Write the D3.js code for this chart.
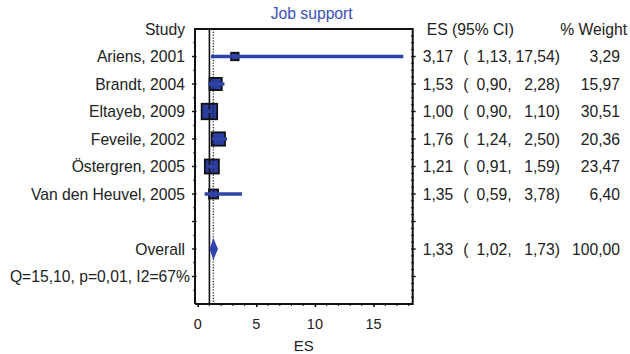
<!DOCTYPE html>
<html>
<head>
<meta charset="utf-8">
<script src="https://cdn.jsdelivr.net/npm/d3@7"></script>
<style>
  html, body { margin: 0; padding: 0; background: #fff; }
  svg { display: block; font-family: "Liberation Sans", Arial, sans-serif; }
</style>
</head>
<body>
<svg id="chart" width="630" height="354"></svg>
<script>
// Study-level effect sizes (ES) with 95% CI and weights
const studies = ["Ariens, 2001", "Brandt, 2004", "Eltayeb, 2009", "Feveile, 2002", "Östergren, 2005", "Van den Heuvel, 2005"];
const es      = [3.17, 1.53, 1.00, 1.76, 1.21, 1.35];
const ciLow   = [1.13, 0.90, 0.90, 1.24, 0.91, 0.59];
const ciHigh  = [17.54, 2.28, 1.10, 2.50, 1.59, 3.78];
const weights = [3.29, 15.97, 30.51, 20.36, 23.47, 6.40];

// Pooled estimate
const overall = { label: "Overall", es: 1.33, lo: 1.02, hi: 1.73, weight: 100.00 };
const heterogeneity = "Q=15,10, p=0,01, I2=67%";

const xTicks = [0, 5, 10, 15];
const title = "Job support";
const xLabel = "ES";

(function () {
const svg = d3.select("#chart");
const fontSize = 15.7;
const blue = "#2e44a8";
const boxBlue = "#2b3e9e";

// Plot frame
const pL = 195, pR = 412.7, pT = 29, pB = 304;
const x = d3.scaleLinear().domain([-0.23, 18.34]).range([pL, pR]);
const y = d3.scaleLinear().domain([0, 10]).range([pT, pB]); // row index -> y

const loc = d3.formatLocale({ decimal: ",", thousands: ".", grouping: [3], currency: ["", ""] });
const f2 = loc.format(".2f");

// square side grows with the study weight
const side = d3.scalePow().exponent(0.5).domain([3.29, 30.51]).range([7.5, 15.5]);

const rows = studies.map((s, i) => ({ label: s, es: es[i], lo: ciLow[i], hi: ciHigh[i], weight: weights[i], row: i + 1 }));
overall.row = 8;

// Title
svg.append("text").attr("x", 311.7).attr("y", 18.5).attr("text-anchor", "middle")
  .attr("font-size", fontSize).attr("fill", "#3a50b4").text(title);

// Column headers
svg.append("text").attr("x", 185).attr("y", y(0) + 5.6).attr("text-anchor", "end")
  .attr("font-size", fontSize).attr("fill", "#222").text("Study");
svg.append("text").attr("x", 426.7).attr("y", y(0) + 5.6)
  .attr("font-size", fontSize).attr("fill", "#222").text("ES (95% CI)");
svg.append("text").attr("x", 627).attr("y", y(0) + 5.6).attr("text-anchor", "end")
  .attr("font-size", fontSize).attr("fill", "#222").text("% Weight");

// Study labels
const allRows = rows.concat([overall]);
svg.append("g").selectAll("text").data(allRows).join("text")
  .attr("x", 185).attr("y", d => y(d.row) + 5.6).attr("text-anchor", "end")
  .attr("font-size", fontSize).attr("fill", "#222").text(d => d.label);
svg.append("text").attr("x", 190).attr("y", y(9) + 5.6).attr("text-anchor", "end")
  .attr("font-size", fontSize).attr("fill", "#222").text(heterogeneity);

// ES (CI) and weight columns
const cols = svg.append("g").attr("font-size", fontSize).attr("fill", "#222");
cols.selectAll("text.es").data(allRows).join("text").attr("class", "es")
  .attr("x", 422.7).attr("y", d => y(d.row) + 5.6).text(d => f2(d.es));
cols.selectAll("text.op").data(allRows).join("text").attr("class", "op")
  .attr("x", 463.3).attr("y", d => y(d.row) + 5.6).text("(");
cols.selectAll("text.lo").data(allRows).join("text").attr("class", "lo")
  .attr("x", 511.5).attr("y", d => y(d.row) + 5.6).attr("text-anchor", "end").text(d => f2(d.lo) + ",");
cols.selectAll("text.hi").data(allRows).join("text").attr("class", "hi")
  .attr("x", 560).attr("y", d => y(d.row) + 5.6).attr("text-anchor", "end").text(d => f2(d.hi) + ")");
cols.selectAll("text.w").data(allRows).join("text").attr("class", "w")
  .attr("x", 620).attr("y", d => y(d.row) + 5.6).attr("text-anchor", "end").text(d => f2(d.weight));

// Boxes sized by weight
const plot = svg.append("g");
plot.selectAll("rect.box").data(rows).join("rect").attr("class", "box")
  .attr("x", d => x(d.es) - side(d.weight) / 2)
  .attr("y", d => y(d.row) - side(d.weight) / 2)
  .attr("width", d => side(d.weight)).attr("height", d => side(d.weight))
  .attr("fill", boxBlue).attr("stroke", "#111").attr("stroke-width", 1.8);

// Null line and pooled-effect line
plot.append("line").attr("x1", x(1)).attr("x2", x(1)).attr("y1", pT).attr("y2", pB)
  .attr("stroke", "#111").attr("stroke-width", 1.6);
plot.append("line").attr("x1", x(overall.es)).attr("x2", x(overall.es)).attr("y1", pT).attr("y2", pB)
  .attr("stroke", "#111").attr("stroke-width", 1.2).attr("stroke-dasharray", "1.2,1.6");

// Confidence intervals
plot.selectAll("line.ci").data(rows).join("line").attr("class", "ci")
  .attr("x1", d => x(d.lo)).attr("x2", d => x(d.hi))
  .attr("y1", d => y(d.row)).attr("y2", d => y(d.row))
  .attr("stroke", blue).attr("stroke-width", 3.4);

// Pooled diamond
const dh = 11;
plot.append("path")
  .attr("d", `M${x(overall.lo)},${y(overall.row)} L${x(overall.es)},${y(overall.row) - dh} L${x(overall.hi)},${y(overall.row)} L${x(overall.es)},${y(overall.row) + dh} Z`)
  .attr("fill", blue);

// Frame
const frame = svg.append("g").attr("stroke", "#111").attr("stroke-width", 2).attr("fill", "none");
frame.append("path").attr("d", `M${pL},${pB} L${pL},${pT} L${pR},${pT} L${pR},${pB} L${pL},${pB}`);

// Row ticks on left and right edges
const majorRows = d3.range(1, 10);
const minorRows = d3.range(0.5, 10, 0.5).filter(v => v % 1 !== 0);
const quarterRows = d3.range(0.25, 10, 0.25).filter(v => v % 1 !== 0);
const tk = svg.append("g").attr("stroke", "#111");
tk.selectAll("line.lmaj").data(majorRows).join("line").attr("class", "lmaj")
  .attr("x1", pL - 3).attr("x2", pL + 1.5).attr("y1", d => y(d)).attr("y2", d => y(d)).attr("stroke-width", 1.4);
tk.selectAll("line.lmin").data(minorRows).join("line").attr("class", "lmin")
  .attr("x1", pL - 1.8).attr("x2", pL).attr("y1", d => y(d)).attr("y2", d => y(d)).attr("stroke-width", 1);
tk.selectAll("line.rmaj").data(majorRows).join("line").attr("class", "rmaj")
  .attr("x1", pR - 1.5).attr("x2", pR + 3).attr("y1", d => y(d)).attr("y2", d => y(d)).attr("stroke-width", 1.4);
tk.selectAll("line.rmin").data(quarterRows).join("line").attr("class", "rmin")
  .attr("x1", pR - 1.8).attr("x2", pR + 1.2).attr("y1", d => y(d)).attr("y2", d => y(d)).attr("stroke-width", 1);

// X axis: tick marks from d3.axisBottom, labels set explicitly
const xAxis = d3.axisBottom(x).tickValues(xTicks).tickSize(4).tickFormat("");
const gx = svg.append("g").attr("transform", `translate(0,${pB - 1})`).call(xAxis);
gx.select(".domain").remove();
gx.selectAll(".tick line").attr("stroke", "#111").attr("stroke-width", 1.6);
gx.selectAll(".tick text").remove();
svg.append("g").selectAll("text").data(xTicks).join("text")
  .attr("x", d => x(d)).attr("y", 328.5).attr("text-anchor", "middle")
  .attr("font-size", 14.5).attr("fill", "#222").text(d => d);
const minorX = d3.range(0, 19).filter(v => !xTicks.includes(v));
svg.append("g").selectAll("line").data(minorX).join("line")
  .attr("x1", d => x(d)).attr("x2", d => x(d)).attr("y1", pB - 1).attr("y2", pB + 2)
  .attr("stroke", "#111").attr("stroke-width", 1.1);

svg.append("text").attr("x", (pL + pR) / 2).attr("y", 350.5).attr("text-anchor", "middle")
  .attr("font-size", 15).attr("fill", "#222").text(xLabel);
})();
</script>
</body>
</html>
